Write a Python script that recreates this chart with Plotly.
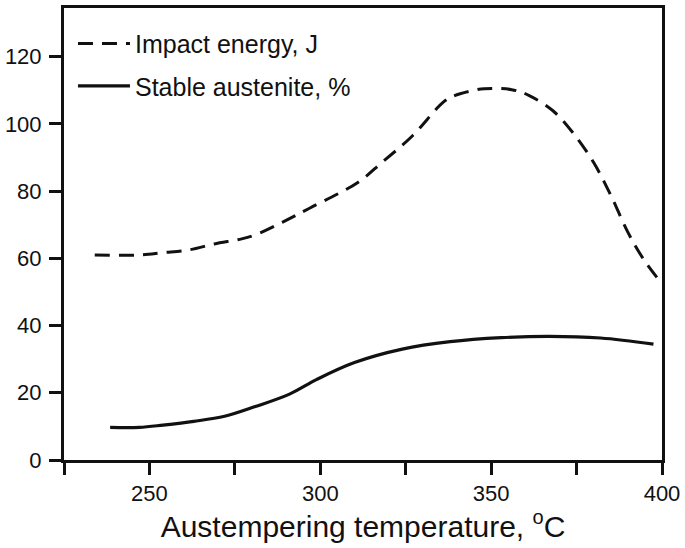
import plotly.graph_objects as go

# Impact energy (J) vs austempering temperature (°C)
impact_temp = [234, 247, 254, 261.5, 269, 277, 281, 289, 297, 311, 318, 327, 336, 339, 345, 348, 356, 361, 368, 374, 380, 385, 390, 394.5, 399]
impact_energy = [61, 61, 61.7, 62.5, 64.3, 65.8, 67, 70.8, 75, 82.6, 88.5, 96.5, 106.5, 108.3, 110, 110.5, 110.2, 108.5, 104, 97.3, 88.5, 78.8, 67.8, 59.9, 53.7]

# Stable austenite (%) vs austempering temperature (°C)
aust_temp = [238.5, 247, 254, 263, 272, 281, 291, 299, 310, 324, 338, 353, 367, 382, 397.5]
aust_pct = [9.7, 9.7, 10.4, 11.5, 13, 15.9, 19.6, 24, 29, 33, 35.2, 36.4, 36.8, 36.3, 34.5]

x_tickvals = [225, 250, 275, 300, 325, 350, 375, 400]
x_ticktext = ["", "250", "", "300", "", "350", "", "400"]
y_tickvals = [0, 20, 40, 60, 80, 100, 120]

FONT = "Liberation Sans, Arial, sans-serif"
INK = "#111111"

fig = go.Figure()
fig.add_trace(go.Scatter(
    x=impact_temp, y=impact_energy, mode="lines", name="Impact energy, J",
    line=dict(color=INK, width=3, dash="15px,9px", shape="spline", smoothing=1.0),
    legendgroup="a",
))
fig.add_trace(go.Scatter(
    x=aust_temp, y=aust_pct, mode="lines", name="Stable austenite, %",
    line=dict(color=INK, width=3.2, shape="spline", smoothing=1.0),
    legendgroup="b",
))

axis_common = dict(
    showline=True, linecolor=INK, linewidth=3, mirror=True,
    ticks="outside", tickcolor=INK, tickwidth=2.5, ticklen=12,
    showgrid=False, zeroline=False,
    tickfont=dict(family=FONT, size=22, color=INK),
)

fig.update_layout(
    width=685, height=548,
    margin=dict(l=62, r=23, t=5, b=88),
    paper_bgcolor="white", plot_bgcolor="white",
    font=dict(family=FONT, color=INK),
    showlegend=True,
    legend=dict(
        x=0.015, y=0.972, xanchor="left", yanchor="top",
        bgcolor="rgba(0,0,0,0)", borderwidth=0,
        font=dict(family=FONT, size=25, color=INK),
        tracegroupgap=7,
        itemwidth=52,
    ),
    xaxis=dict(
        range=[225, 400], tickvals=x_tickvals, ticktext=x_ticktext,
        ticklabelstandoff=0,
        title=dict(text="Austempering temperature, <sup><span style='font-size:20px'>o</span></sup>C",
                   font=dict(family=FONT, size=30, color=INK), standoff=10),
        **axis_common,
    ),
    yaxis=dict(
        range=[0, 134.5], tickvals=y_tickvals,
        ticklabelstandoff=3,
        **axis_common,
    ),
)

fig.write_html("out.html", config={"displayModeBar": False},
               post_script="document.body.style.margin='0';")
